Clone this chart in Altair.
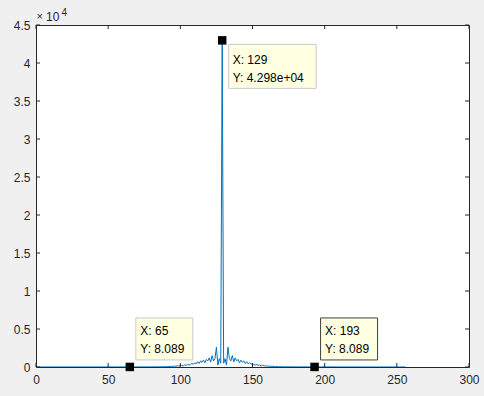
import altair as alt
import pandas as pd

# ---- data -------------------------------------------------------------
samples = list(range(1, 257))
magnitude = [
    # x = 1 .. 64
    3.2, 4.1, 5.0, 3.8, 6.2, 4.5, 5.7, 3.9, 6.8, 5.1,
    4.4, 7.0, 5.3, 6.1, 4.8, 7.4, 5.6, 6.6, 5.0, 7.9,
    6.0, 5.2, 8.3, 6.4, 7.1, 5.5, 8.6, 6.9, 7.7, 6.1,
    9.0, 7.2, 8.1, 6.5, 9.5, 7.6, 8.8, 7.0, 10.2, 8.1,
    9.4, 7.5, 11.0, 8.7, 10.1, 8.0, 11.8, 9.3, 10.9, 8.4,
    12.6, 9.9, 11.7, 8.6, 13.5, 10.5, 12.4, 8.2, 14.3, 11.1,
    13.0, 8.0, 15.2, 11.6,
    # x = 65 .. 128
    8.089, 16.4, 12.5, 14.9, 9.6, 18.0,
    13.8, 17.1, 11.2, 20.5, 15.6, 19.8, 12.9, 24.0, 18.2, 23.1,
    15.0, 29.0, 21.5, 27.8, 18.4, 36.0, 26.0, 44.0, 31.0, 58.0,
    40.0, 75.0, 52.0, 98.0, 66.0, 130.0, 85.0, 175.0, 120.0,
    150.0, 230.0, 120.0, 280.0, 200.0, 350.0, 260.0, 300.0, 480.0, 350.0,
    560.0, 420.0, 700.0, 450.0, 800.0, 620.0, 900.0, 550.0, 1000.0, 800.0,
    1200.0, 650.0, 1500.0, 800.0, 1100.0, 2600.0, 250.0, 1100.0, 500.0,
    # x = 129 (peak)
    42980.0,
    # x = 130 .. 256
    500.0, 1100.0, 250.0, 2600.0, 1100.0, 800.0, 1500.0, 650.0, 1200.0,
    800.0, 1000.0, 550.0, 900.0, 620.0, 800.0, 450.0, 700.0, 420.0, 560.0,
    350.0, 480.0, 300.0, 260.0, 350.0, 200.0, 280.0, 120.0, 230.0, 150.0,
    120.0, 175.0, 85.0, 130.0, 66.0, 98.0, 52.0, 75.0, 40.0,
    58.0, 31.0, 44.0, 26.0, 36.0, 18.4, 27.8, 21.5, 29.0, 15.0,
    23.1, 18.2, 24.0, 12.9, 19.8, 15.6, 20.5, 11.2, 17.1, 13.8,
    18.0, 9.6, 14.9, 12.5, 16.4, 8.089,
    11.6, 15.2, 8.0, 13.0,
    11.1, 14.3, 8.2, 12.4, 10.5, 13.5, 8.6, 11.7, 9.9, 12.6,
    8.4, 10.9, 9.3, 11.8, 8.0, 10.1, 8.7, 11.0, 7.5, 9.4,
    8.1, 10.2, 7.0, 8.8, 7.6, 9.5, 6.5, 8.1, 7.2, 9.0,
    6.1, 7.7, 6.9, 8.6, 5.5, 7.1, 6.4, 8.3, 5.2, 6.0,
    7.9, 5.0, 6.6, 5.6, 7.4, 4.8, 6.1, 5.3, 7.0, 4.4,
    5.1, 6.8, 3.9, 5.7, 4.5, 6.2, 3.8, 5.0, 4.1,
]

tip_x = [65, 129, 193]
tip_y = [8.089, 42980, 8.089]
tip_line1 = ["X: 65", "X: 129", "X: 193"]
tip_line2 = ["Y: 8.089", "Y: 4.298e+04", "Y: 8.089"]
tip_edge = ["#c8c8c8", "#c8c8c8", "#404040"]
tip_side = ["above", "below", "above"]

x_ticks = [0, 50, 100, 150, 200, 250, 300]
y_ticks = [0, 5000, 10000, 15000, 20000, 25000, 30000, 35000, 40000, 45000]

# ---- tables -----------------------------------------------------------
df = pd.DataFrame({"sample": samples, "magnitude": magnitude})
tips = pd.DataFrame({"tx": tip_x, "ty": tip_y, "l1": tip_line1,
                     "l2": tip_line2, "edge": tip_edge, "side": tip_side})
tips_above = tips[tips["side"] == "above"]
tips_below = tips[tips["side"] == "below"]
xt = pd.DataFrame({"v": x_ticks})
yt = pd.DataFrame({"v": y_ticks})
one = pd.DataFrame({"a": [0]})

FONT = "Liberation Sans"
AX = "#262626"
xs = alt.Scale(domain=[0, 300], nice=False, zero=False)
ys = alt.Scale(domain=[0, 45000], nice=False, zero=False)

x_axis = alt.Axis(values=x_ticks, ticks=False, domain=False, grid=False,
                  labelFont=FONT, labelFontSize=12, labelColor=AX,
                  labelPadding=7, title=None, labelFlush=False)
y_axis = alt.Axis(values=y_ticks, ticks=False, domain=False, grid=False,
                  labelFont=FONT, labelFontSize=12, labelColor=AX,
                  labelPadding=6, title=None, labelExpr="datum.value / 10000 + ''")


def X(field):
    return alt.X(field, scale=xs, axis=x_axis, title=None)


def Y(field):
    return alt.Y(field, scale=ys, axis=y_axis, title=None)


def XD(v):
    return alt.XDatum(v, scale=xs, axis=x_axis, title=None)


def YD(v):
    return alt.YDatum(v, scale=ys, axis=y_axis, title=None)


line = alt.Chart(df).mark_line(color="#0072BD", strokeWidth=1, clip=True).encode(
    x=X("sample:Q"), y=Y("magnitude:Q"))

TL = 4
left_t = alt.Chart(yt).mark_rule(color=AX, x2Offset=TL).encode(
    x=XD(0), x2=alt.datum(0), y=Y("v:Q"))
right_t = alt.Chart(yt).mark_rule(color=AX, x2Offset=-TL).encode(
    x=XD(300), x2=alt.datum(300), y=Y("v:Q"))
bottom_t = alt.Chart(xt).mark_rule(color=AX, y2Offset=-TL).encode(
    y=YD(0), y2=alt.datum(0), x=X("v:Q"))
top_t = alt.Chart(xt).mark_rule(color=AX, y2Offset=TL).encode(
    y=YD(45000), y2=alt.datum(45000), x=X("v:Q"))

markers = alt.Chart(tips).mark_square(size=72, color="black", opacity=1).encode(
    x=X("tx:Q"), y=Y("ty:Q"))

box_above = alt.Chart(tips_above).mark_rect(
    fill="#ffffe1", strokeWidth=1, xOffset=6, x2Offset=63, yOffset=-49, y2Offset=-7
).encode(
    x=X("tx:Q"), x2="tx:Q", y=Y("ty:Q"), y2="ty:Q",
    stroke=alt.Stroke("edge:N", scale=None),
)
box_below = alt.Chart(tips_below).mark_rect(
    fill="#ffffe1", strokeWidth=1, xOffset=6.5, x2Offset=94, yOffset=4, y2Offset=48
).encode(
    x=X("tx:Q"), x2="tx:Q", y=Y("ty:Q"), y2="ty:Q",
    stroke=alt.Stroke("edge:N", scale=None),
)


def tip_text(data, field, dx, dy):
    return alt.Chart(data).mark_text(
        align="left", baseline="alphabetic", dx=dx, dy=dy,
        font=FONT, fontSize=12, color="black"
    ).encode(x=X("tx:Q"), y=Y("ty:Q"), text=f"{field}:N")


t1a = tip_text(tips_above, "l1", 10.5, -32)
t2a = tip_text(tips_above, "l2", 10.5, -14)
t1b = tip_text(tips_below, "l1", 10.5, 24)
t2b = tip_text(tips_below, "l2", 10.5, 42)


def corner(txt, dx, dy, size):
    return alt.Chart(one).mark_text(
        text=txt, align="left", baseline="alphabetic", dx=dx, dy=dy,
        font=FONT, fontSize=size, color=AX
    ).encode(x=XD(0), y=YD(45000))


exp1 = corner("×", 0.5, -5, 11)
exp2 = corner("10", 10, -4, 12)
exp3 = corner("4", 25.5, -9, 10)

chart = alt.layer(
    line, left_t, right_t, bottom_t, top_t, markers,
    box_above, box_below, t1a, t2a, t1b, t2b, exp1, exp2, exp3
).properties(
    width=433, height=342,
    autosize=alt.AutoSizeParams(type="none"),
    padding={"left": 36, "top": 25, "right": 15, "bottom": 29},
    background="#f0f0f0",
).configure_view(fill="white", stroke=AX, strokeWidth=1)

chart.save("out.html", embed_options={"renderer": "svg", "actions": False})
